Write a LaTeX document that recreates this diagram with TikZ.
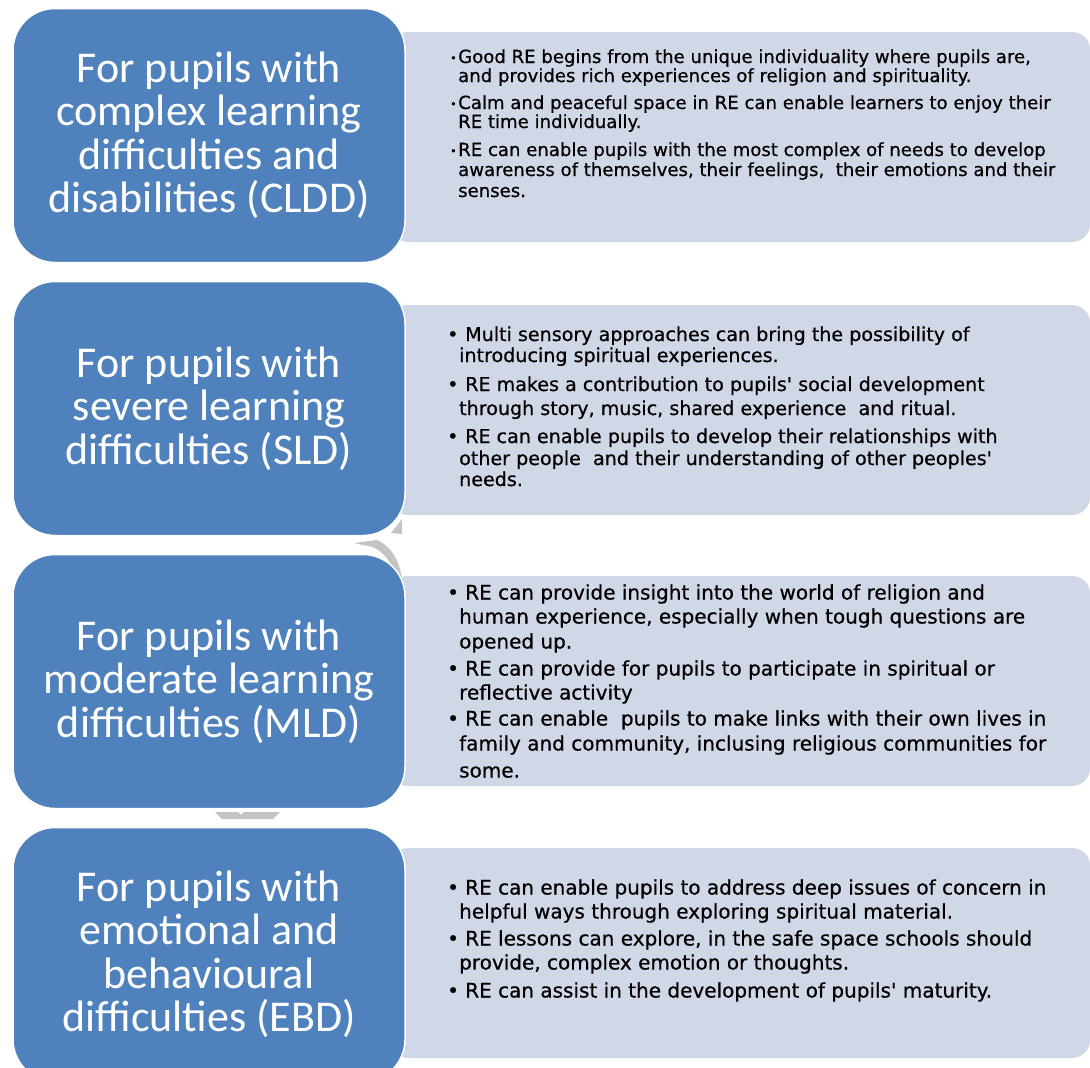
\documentclass[tikz,border=0pt]{standalone}
\usepackage{fontspec}
\usepackage{graphicx}
\setmainfont{Carlito}
\newfontfamily\bodyfont[FakeBold=0.6]{DejaVu Sans}
\definecolor{cblue}{HTML}{4F81BD}
\definecolor{cgrey}{HTML}{D0D8E8}
\definecolor{cconn}{HTML}{C4C4C4}
\newcommand{\smallbul}{\makebox[8pt][l]{\raisebox{0.12ex}{\scalebox{0.6}{•}}}}
\newcommand{\bigbul}{\makebox[18pt][l]{•}}
\begin{document}
\begin{tikzpicture}[x=1pt,y=-1pt,
  bluebox/.style={draw=white,line width=1.5pt,fill=cblue,rounded corners=42pt,minimum width=392pt,minimum height=254pt,inner sep=0pt,text=white,align=center,font=\fontsize{44}{43.5}\selectfont},
  greybox/.style={fill=cgrey,rounded corners=18pt,minimum width=700pt,minimum height=210pt,inner sep=0pt},
  bodyA/.style={anchor=base west,inner sep=0pt,text=black,font=\bodyfont\fontsize{18.1}{19.5}\selectfont},
  bodyB/.style={anchor=base west,inner sep=0pt,text=black,font=\bodyfont\fontsize{19.1}{24}\selectfont},
  bodyC/.style={anchor=base west,inner sep=0pt,text=black,font=\bodyfont\fontsize{20}{24}\selectfont},
  connshape/.style={fill=cconn,draw=none}]
\path[use as bounding box] (0,0) rectangle (1090,1068);
\clip (0,0) rectangle (1090,1068);

% grey text panels
\node[greybox] (g1) at (740,137) {};
\node[greybox] (g2) at (740,410) {};
\node[greybox] (g3) at (740,681) {};
\node[greybox] (g4) at (740,953) {};

% faint connector shapes
\fill[connshape] (402,519) -- (402,534) -- (391,533) -- cycle;
\fill[connshape] (354,543) -- (377,540) .. controls (391,546) and (399,560) .. (402,578) -- (398,582) .. controls (392,563) and (384,551) .. (372,547) -- cycle;
\fill[connshape] (215,812) -- (280,812) -- (273,819) -- (222,819) -- cycle;
\fill[white] (238,812) -- (244,812) -- (241,814.5) -- cycle;

% blue title boxes
\node[bluebox] (b1) at (209,135.5) {For pupils with\\complex learning\\difficulties and\\disabilities (CLDD)};
\node[bluebox] (b2) at (209,408.5) {For pupils with\\severe learning\\difficulties (SLD)};
\node[bluebox] (b3) at (209,681.5) {For pupils with\\moderate learning\\difficulties (MLD)};
\node[bluebox] (b4) at (209,954.5) {For pupils with\\emotional and\\behavioural\\difficulties (EBD)};

% row 1 text
\node[bodyA] (t1a) at (450,63) {\smallbul Good RE begins from the unique individuality where pupils are,};
\node[bodyA] (t1b) at (458,82) {and provides rich experiences of religion and spirituality.};
\node[bodyA] (t1c) at (450,109) {\smallbul Calm and peaceful space in RE can enable learners to enjoy their};
\node[bodyA] (t1d) at (458,128) {RE time individually.};
\node[bodyA] (t1e) at (450,156) {\smallbul RE can enable pupils with the most complex of needs to develop};
\node[bodyA] (t1f) at (458,176) {awareness of themselves, their feelings,\ \ their emotions and their};
\node[bodyA] (t1g) at (458,197) {senses.};

% row 2 text
\node[bodyB] (t2a) at (447,341) {\bigbul Multi sensory approaches can bring the possibility of};
\node[bodyB] (t2b) at (459,362) {introducing spiritual experiences.};
\node[bodyB] (t2c) at (447,391) {\bigbul RE makes a contribution to pupils' social development};
\node[bodyB] (t2d) at (459,415) {through story, music, shared experience\ \ and ritual.};
\node[bodyB] (t2e) at (447,443) {\bigbul RE can enable pupils to develop their relationships with};
\node[bodyB] (t2f) at (459,465) {other people\ \ and their understanding of other peoples'};
\node[bodyB] (t2g) at (459,486) {needs.};

% row 3 text
\node[bodyC] (t3a) at (447,599.5) {\bigbul RE can provide insight into the world of religion and};
\node[bodyC] (t3b) at (459,623.5) {human experience, especially when tough questions are};
\node[bodyC] (t3c) at (459,648.5) {opened up.};
\node[bodyC] (t3d) at (447,675.5) {\bigbul RE can provide for pupils to participate in spiritual or};
\node[bodyC] (t3e) at (459,699.5) {reflective activity};
\node[bodyC] (t3f) at (447,725.5) {\bigbul RE can enable\ \ pupils to make links with their own lives in};
\node[bodyC] (t3g) at (459,750.5) {family and community, inclusing religious communities for};
\node[bodyC] (t3h) at (459,777.5) {some.};

% row 4 text
\node[bodyC] (t4a) at (447,894.5) {\bigbul RE can enable pupils to address deep issues of concern in};
\node[bodyC] (t4b) at (459,918.5) {helpful ways through exploring spiritual material.};
\node[bodyC] (t4c) at (447,945.5) {\bigbul RE lessons can explore, in the safe space schools should};
\node[bodyC] (t4d) at (459,969.5) {provide, complex emotion or thoughts.};
\node[bodyC] (t4e) at (447,997.5) {\bigbul RE can assist in the development of pupils' maturity.};
\end{tikzpicture}
\end{document}
